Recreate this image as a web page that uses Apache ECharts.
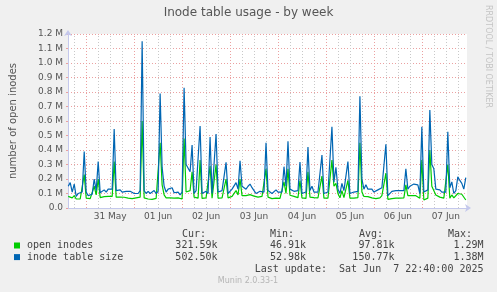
<!DOCTYPE html>
<html><head><meta charset="utf-8">
<script src="https://cdn.jsdelivr.net/npm/echarts@6/dist/echarts.min.js"></script>
<style>html,body{margin:0;padding:0;background:#F0F0F0}#c{width:497px;height:292px}</style>
</head><body><div id="c"></div>
<script>
// hours relative to 31 May 00:00, one sample per hour
const startHour = -9;
const dayLabels = ['31 May','01 Jun','02 Jun','03 Jun','04 Jun','05 Jun','06 Jun','07 Jun'];
const labelHours = [12,36,60,84,108,132,156,180];
// values in thousands
const inodeTableSize = [
150,175,110,165,80,100,105,110,390,110,
85,80,95,200,120,320,105,115,125,110,
130,120,130,545,120,115,125,110,120,115,
110,115,105,100,90,100,120,1150,120,100,
115,100,110,120,100,115,790,280,150,110,
130,135,140,105,100,110,90,110,830,300,
310,250,435,100,120,115,565,100,110,115,
100,490,100,105,510,110,105,120,110,315,
100,110,130,140,175,130,325,150,140,130,
150,165,140,120,100,110,115,120,110,450,
120,115,100,110,125,110,120,110,285,150,
460,130,120,115,110,120,317,100,105,110,
420,120,150,110,100,110,115,365,100,105,
110,100,560,180,280,130,100,170,120,110,
320,100,105,110,100,115,770,200,130,160,
130,125,130,110,115,125,130,140,150,440,
85,90,115,110,120,115,120,110,120,270,
130,150,160,165,170,160,100,560,110,120,
125,675,300,270,130,120,125,110,100,110,
526,140,180,100,120,215,190,170,130,210
];
const openInodes = [
80,90,70,85,62,60,62,70,230,68,
63,65,70,150,90,200,72,75,78,76,
80,78,80,320,75,72,75,76,74,70,
68,66,65,68,70,72,75,600,70,65,
62,65,60,64,66,68,450,160,90,70,
72,70,72,68,66,70,65,62,480,110,
105,120,250,75,70,68,330,66,68,70,
66,290,68,70,300,68,72,70,68,200,
70,72,80,85,120,90,200,85,82,85,
88,92,88,82,78,75,78,80,78,270,
75,68,65,66,68,65,67,70,180,100,
270,88,85,80,75,72,190,70,68,66,
250,75,85,72,70,70,72,220,68,70,
68,66,330,150,170,100,70,120,72,68,
190,68,70,68,70,72,450,110,80,90,
78,75,70,66,65,68,70,85,90,240,
60,62,65,66,68,66,68,66,70,160,
85,88,85,88,85,80,68,330,55,65,
68,400,150,140,90,80,75,70,68,72,
300,68,90,70,80,100,110,95,90,55
];
const legendNames = ['open inodes','inode table size'];
const statHeaders = ['Cur:','Min:','Avg:','Max:'];
const statsOpen = ['321.59k','46.91k','97.81k','1.29M'];
const statsTable = ['502.50k','52.98k','150.77k','1.38M'];
const lastUpdate = 'Last update:  Sat Jun  7 22:40:00 2025';
const footer = 'Munin 2.0.33-1';
const colors = ['#00CC00','#0066B3'];

const toPairs = arr => arr.map((v,i)=>[startHour+i, v]);
const redGrid = [], grayGrid = [];
for (let h=-6; h<=186; h+=6) {
  if (h % 24 === 0) redGrid.push(h); else grayGrid.push(h);
}
const redStyle = {color:'#EBA0A0', type:[1,2], width:1};
const grayStyle = {color:'#C8C8C8', type:[1,2], width:1};
const gridMarks = redGrid.map(h=>({xAxis:h, lineStyle:redStyle}))
  .concat(grayGrid.map(h=>({xAxis:h, lineStyle:grayStyle})));

const mono = 'DejaVu Sans Mono';
const sans = 'DejaVu Sans';
const txtColor = '#444';
const graphics = [];
const colX = [182,270,359,448];
const valX = [217.5,306,394.5,483.5];
statHeaders.forEach((t,i)=>graphics.push({type:'text', x:colX[i], y:234, style:{text:t, font:'10px '+mono, fill:txtColor, textVerticalAlign:'middle'}}));
[statsOpen, statsTable].forEach((arr,r)=>{
  const y = 245.5 + r*11.6;
  graphics.push({type:'rect', shape:{x:14, y:y-3, width:6, height:6}, style:{fill:colors[r]}});
  graphics.push({type:'text', x:27, y:y, style:{text:legendNames[r], font:'10px '+mono, fill:txtColor, textVerticalAlign:'middle'}});
  arr.forEach((t,i)=>graphics.push({type:'text', x:valX[i], y:y, style:{text:t, font:'10px '+mono, fill:txtColor, textAlign:'right', textVerticalAlign:'middle'}}));
});
graphics.push({type:'text', x:483.5, y:269, style:{text:lastUpdate, font:'10px '+mono, fill:txtColor, textAlign:'right', textVerticalAlign:'middle'}});
graphics.push({type:'text', x:248, y:281, style:{text:footer, font:'8px '+sans, fill:'#B5B5B5', textAlign:'center', textVerticalAlign:'middle'}});
graphics.push({type:'text', x:488, y:5, rotation:-Math.PI/2, style:{text:'RRDTOOL / TOBI OETIKER', font:'8px '+sans, fill:'#C4C4C4', textAlign:'left', textVerticalAlign:'middle'}});

const chart = echarts.init(document.getElementById('c'), null, {renderer:'canvas'});
chart.setOption({
  backgroundColor:'#F0F0F0',
  animation:false,
  title:{text:'Inode table usage - by week', left:'center', top:7, padding:0,
    textStyle:{fontFamily:sans, fontSize:12, fontWeight:'normal', color:'#555'}},
  grid:{left:66, top:34, width:401, height:174, show:true, backgroundColor:'#FFFFFF', borderWidth:0},
  xAxis:{type:'value', min:-9.11, max:190.6,
    axisLine:{show:true, onZero:false, lineStyle:{color:'#C4C8EC', width:1}, symbol:['none','arrow'], symbolSize:[6,6], symbolOffset:[0,4]},
    axisTick:{show:false}, splitLine:{show:false},
    axisLabel:{customValues:labelHours, formatter:v=>dayLabels[Math.round((v-12)/24)]||'',
      fontFamily:sans, fontSize:9, color:'#555', margin:4}},
  yAxis:{type:'value', min:0, max:1200, interval:100,
    name:'number of open inodes', nameLocation:'middle', nameGap:50,
    nameTextStyle:{fontFamily:sans, fontSize:10, color:'#555'},
    axisLine:{show:true, onZero:false, lineStyle:{color:'#C4C8EC', width:1}, symbol:['none','arrow'], symbolSize:[6,6], symbolOffset:[0,4]},
    axisTick:{show:true, length:2, lineStyle:{color:'#EBA0A0'}},
    splitLine:{show:true, lineStyle:redStyle},
    axisLabel:{formatter:v=>v===0?'0.0':(v/1000).toFixed(1)+' M', fontFamily:sans, fontSize:9, color:'#555', margin:5}},
  series:[
    {name:legendNames[0], type:'line', data:toPairs(openInodes), showSymbol:false, symbol:'none',
     lineStyle:{color:colors[0], width:1.2}, itemStyle:{color:colors[0]}, z:8,
     markLine:{silent:true, symbol:['none','none'], label:{show:false}, emphasis:{disabled:true}, data:gridMarks}},
    {name:legendNames[1], type:'line', data:toPairs(inodeTableSize), showSymbol:false, symbol:'none',
     lineStyle:{color:colors[1], width:1.2}, itemStyle:{color:colors[1]}, z:9}
  ],
  graphic:graphics
});
</script></body></html>
